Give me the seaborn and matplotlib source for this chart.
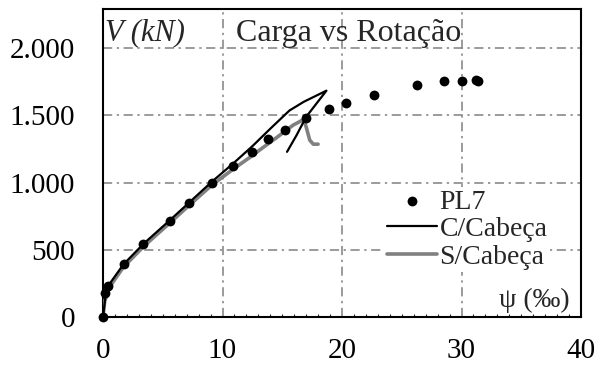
import matplotlib
matplotlib.use("Agg")
import matplotlib.pyplot as plt
import seaborn as sns
import pandas as pd
from matplotlib.ticker import FuncFormatter, MultipleLocator

# PL7 experimental points (rotation ‰, load kN)
pl7_x = [0.0, 0.16, 0.44, 1.76, 3.37, 5.6, 7.2, 9.15, 10.9, 12.5, 13.8, 15.2, 17.0,
         18.9, 20.3, 22.7, 26.3, 28.5, 30.0, 31.2, 31.4]
pl7_y = [0, 180, 230, 391, 540, 715, 845, 998, 1122, 1228, 1320, 1394, 1476,
         1543, 1592, 1652, 1724, 1756, 1756, 1762, 1751]

# C/Cabeça model curve
c_x = [0.0, 0.2, 0.5, 1.7, 3.4, 5.6, 7.2, 9.1, 10.9, 12.5, 14.0, 15.6, 16.8, 18.7,
       17.0, 16.2, 15.4]
c_y = [0, 150, 240, 390, 545, 720, 850, 1005, 1142, 1270, 1400, 1535, 1600, 1683,
       1488, 1352, 1228]

# S/Cabeça model curve
s_x = [0.0, 0.15, 0.6, 1.7, 3.4, 5.6, 7.2, 9.1, 10.9, 12.5, 13.1, 14.8, 15.9, 16.8,
       17.0, 17.3, 17.6, 18.0]
s_y = [0, 120, 230, 370, 525, 700, 830, 980, 1100, 1200, 1241, 1352, 1426, 1469,
       1414, 1315, 1285, 1285]

x_ticks = [0, 10, 20, 30, 40]
y_ticks = [0, 500, 1000, 1500, 2000]

sns.set_style("white")
plt.rcParams['font.family'] = ['Liberation Serif', 'DejaVu Serif']

fig = plt.figure(figsize=(5.98, 3.67), dpi=100)
ax = fig.add_axes([103/598, 1-317/367, 478/598, 308/367])

df_p = pd.DataFrame({"x": pl7_x, "y": pl7_y})
df_c = pd.DataFrame({"x": c_x, "y": c_y})
df_s = pd.DataFrame({"x": s_x, "y": s_y})

sns.lineplot(data=df_s, x="x", y="y", sort=False, estimator=None, color="#808080",
             lw=2.6, ax=ax, label="S/Cabeça", zorder=3)
sns.lineplot(data=df_c, x="x", y="y", sort=False, estimator=None, color="black",
             lw=1.6, ax=ax, label="C/Cabeça", zorder=4)
sns.scatterplot(data=df_p, x="x", y="y", color="black", s=50, edgecolor="black",
                linewidth=0, ax=ax, label="PL7", zorder=5, clip_on=False)

ax.set_xlim(0, 40)
ax.set_ylim(0, 2290)
ax.set_xticks(x_ticks)
ax.set_yticks(y_ticks)
ax.yaxis.set_major_formatter(FuncFormatter(lambda v, p: f"{v:,.0f}".replace(",", ".")))
ax.xaxis.set_minor_locator(MultipleLocator(1))
ax.tick_params(axis="both", which="major", length=0, labelsize=21, colors="black")
ax.tick_params(axis="x", which="major", pad=15)
ax.tick_params(axis="y", which="major", pad=20)
ax.tick_params(axis="x", which="minor", direction="in", length=2, width=0.8, bottom=True)
ax.set_xlabel("")
ax.set_ylabel("")

ax.grid(True, which="major", color="#808080", lw=1.1, linestyle=(0, (6, 3, 1.5, 3)))
ax.set_axisbelow(True)
for sp in ax.spines.values():
    sp.set_visible(True)
    sp.set_color("black")
    sp.set_linewidth(1.5)

handles, labels = ax.get_legend_handles_labels()
order = [labels.index("PL7"), labels.index("C/Cabeça"), labels.index("S/Cabeça")]
leg = ax.legend([handles[i] for i in order], [labels[i] for i in order],
                loc="lower left", bbox_to_anchor=(0.588, 0.145), fontsize=20,
                frameon=True, facecolor="white", edgecolor="none", framealpha=1,
                fancybox=False, handlelength=1.8, handletextpad=0.1,
                labelspacing=0.07, borderpad=0.1, borderaxespad=0)
leg.set_zorder(6)

ax.text(0.004, 0.922, "V (kN)", transform=ax.transAxes, fontsize=22, style="italic",
        va="center", ha="left", zorder=7)
ax.text(0.278, 0.922, "Carga vs Rotação", transform=ax.transAxes, fontsize=23,
        va="center", ha="left", zorder=7)
ax.text(0.977, 0.055, "ψ (‰)", transform=ax.transAxes, fontsize=20,
        va="center", ha="right", zorder=7)

fig.savefig("out.png", dpi=100)
